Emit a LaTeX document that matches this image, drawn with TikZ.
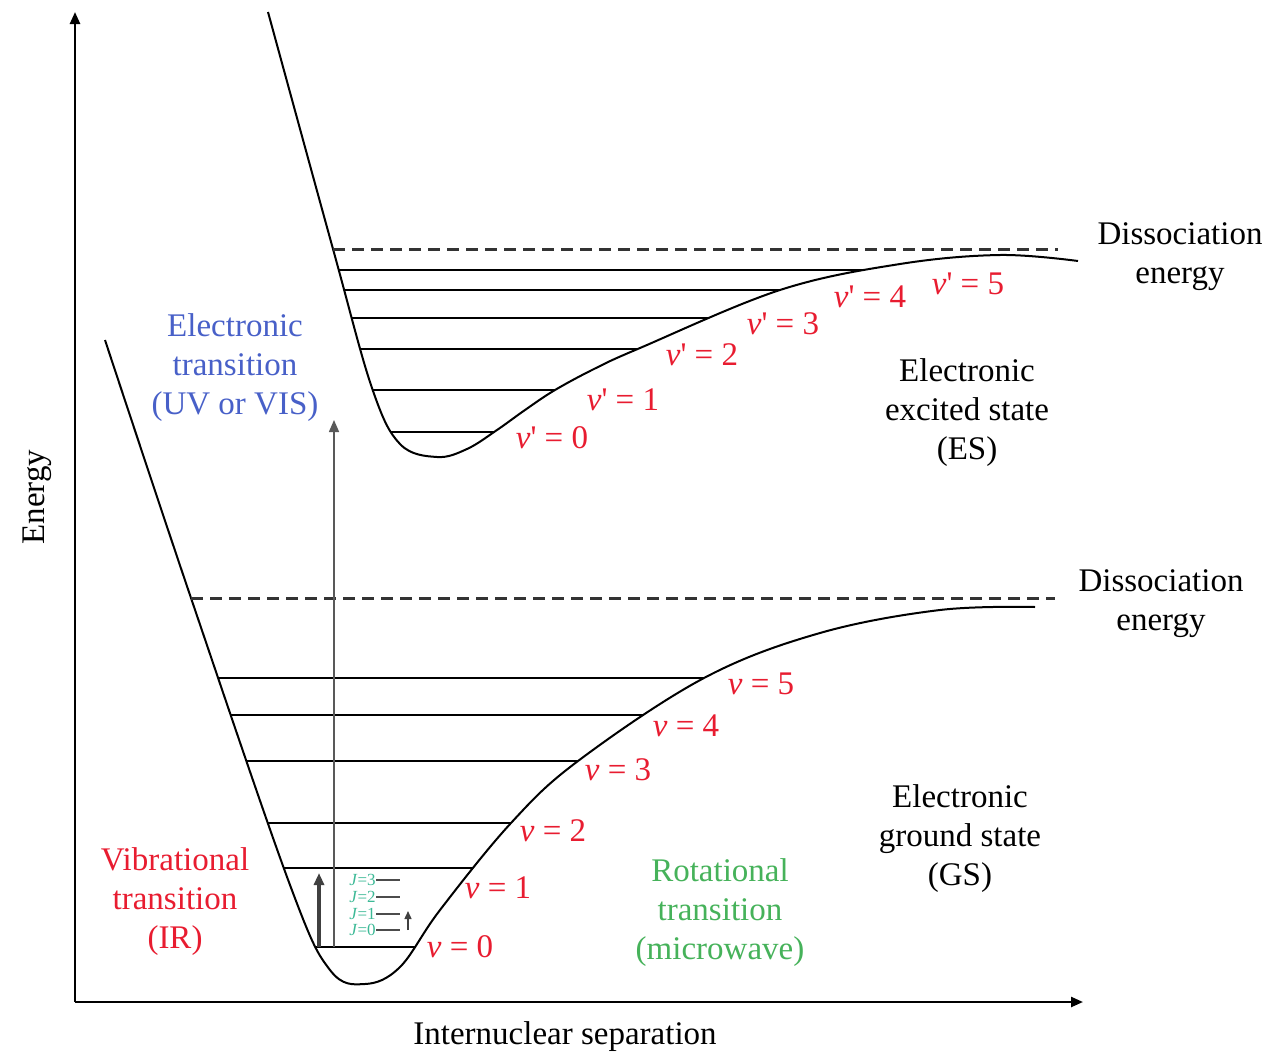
\documentclass[tikz,border=0pt]{standalone}
\usepackage{fontspec}
\setmainfont{Liberation Serif}
\usetikzlibrary{arrows.meta}
\definecolor{vred}{RGB}{232,28,48}
\definecolor{eblue}{RGB}{72,96,200}
\definecolor{rgreen}{RGB}{70,178,90}
\definecolor{jgreen}{RGB}{60,185,150}
\tikzset{lab/.style={align=center,font=\fontsize{16.5}{19.5}\selectfont,inner sep=0pt},
  vlab/.style={lab,text=vred},
  lvl/.style={line width=1pt},
  diss/.style={line width=1.5pt,dash pattern=on 6pt off 3.5pt,black!80},
  sm/.style={smooth,tension=0.6},
  arr/.style={-{Triangle[length=6pt,width=5pt]}}}
\def\gscurve{(105,340)(191,598)(290,885)(330,970)(365,984)(400,967)(440,910)(511,823)(578,761)(704,678)(820,633)(940,610)(1035,607)}
\def\escurve{(268,12)(333,249)(372,388)(400,444)(437,457)(467,449)(497,430)(525,410)(555,390)(596,368)(640,348)(780,290)(900,264)(1000,255)(1078,261)}

\begin{document}
\begin{tikzpicture}[x=0.5pt,y=-0.5pt]
\useasboundingbox (0,0) rectangle (1274,1060);
\coordinate (O) at (75,1002);\coordinate (ytop) at (75,12);\coordinate (xend) at (1083,1002);
\draw[line width=1.2pt,arr](O)--(ytop);\draw[line width=1.2pt,arr](O)--(xend);
\node[lab,rotate=90](energy)at(37,497){Energy};
\node[lab](sep)at(565,1037){Internuclear separation};
\draw[line width=1pt]plot[sm]coordinates\gscurve;
\draw[line width=1pt]plot[sm]coordinates\escurve;
\begin{scope}\clip plot[sm]coordinates\gscurve--(1035,300)--(105,300)--cycle;
\foreach\y in{947,868,823,761,715,678}\draw[lvl](0,\y)--(1100,\y);
\end{scope}
\begin{scope}\clip plot[sm]coordinates\escurve--(1078,0)--(268,0)--cycle;
\foreach\y in{432,390,349,318,290,270}\draw[lvl](0,\y)--(1100,\y);
\end{scope}
\draw[diss](191,598)--(1055,598);\draw[diss](333,249)--(1058,249);
\foreach\n/\x/\y in{0/460/947,1/498/888,2/553/831,3/618/770,4/686/726,5/761/684}\node[vlab](v\n)at(\x,\y){\textit{v} = \n};
\foreach\n/\x/\y in{0/552/438,1/623/400,2/702/355,3/783/324,4/870/297,5/968/284}\node[vlab](w\n)at(\x,\y){\textit{v}\textquotesingle{} = \n};
\foreach\j/\y in{0/930,1/914,2/897,3/880}{\node[inner sep=0pt,anchor=east,text=jgreen,font=\fontsize{8.5}{9}\selectfont](J\j)at(376,\y){\textit{J}=\j};
  \draw[line width=0.6pt,black!70](J\j.east)--++(24,0);}
\coordinate (e0) at (334,947);\coordinate (e1) at (334,420);
\draw[arr,line width=0.8pt,black!65](e0)--(e1);
\coordinate (i0) at (319,947);\coordinate (i1) at (319,873);
\draw[arr,line width=1.6pt,black!75](i0)--(i1);
\coordinate (r0) at (408,930);\coordinate (r1) at (408,911);
\draw[-{Triangle[length=4pt,width=3.5pt]},line width=0.7pt,black!75](r0)--(r1);
\node[lab](dissES)at(1180,257){Dissociation\\energy};
\node[lab](dissGS)at(1161,604){Dissociation\\energy};
\node[lab](ES)at(967,413){Electronic\\excited state\\(ES)};
\node[lab](GS)at(960,839){Electronic\\ground state\\(GS)};
\node[lab,text=eblue](uv)at(235,368){Electronic\\transition\\(UV or VIS)};
\node[lab,text=vred](ir)at(175,902){Vibrational\\transition\\(IR)};
\node[lab,text=rgreen](mw)at(720,913){Rotational\\transition\\(microwave)};
\end{tikzpicture}
\end{document}
